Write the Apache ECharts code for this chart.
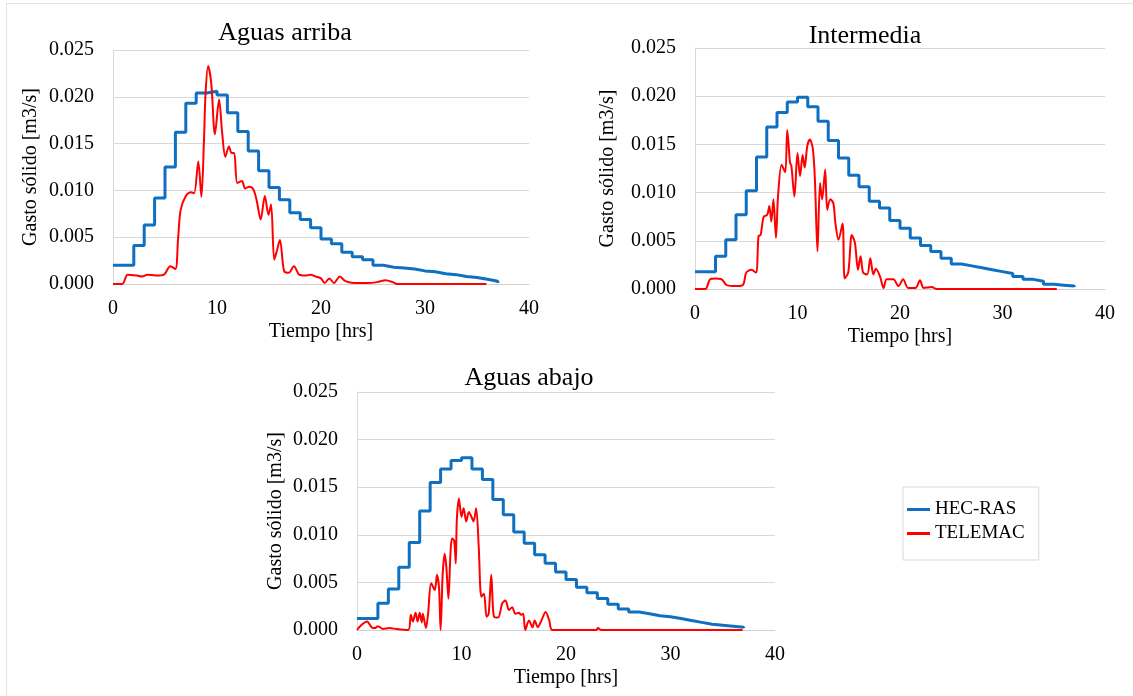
<!DOCTYPE html>
<html>
<head>
<meta charset="utf-8">
<script src="https://cdn.jsdelivr.net/npm/echarts@6/dist/echarts.min.js"></script>
<style>
  html, body { margin: 0; padding: 0; background: #fff; }
  #frame { position: absolute; left: 6px; top: 3px; width: 1127px; height: 693px;
    border-left: 1px solid #e3e3e3; border-top: 1px solid #e3e3e3; }
  #chart { position: absolute; left: 0; top: 0; width: 1133px; height: 696px; }
</style>
</head>
<body>
<div id="frame"></div>
<div id="chart"></div>
<script>
// HEC-RAS step breakpoints (hrs), value holds until next breakpoint
const hecHours = [0, 2, 3, 4, 5, 6, 7, 8, 9, 10, 11, 12, 13, 14, 15, 16, 17, 18, 19, 20,
  21, 22, 23, 24, 25, 26, 27, 28, 29, 30, 31, 32, 33, 34, 35, 36, 37]

const hecArriba = [0.0020, 0.0041, 0.0063, 0.0092, 0.0125, 0.0162, 0.0193, 0.0204, 0.0206, 0.0202,
  0.0183, 0.0163, 0.0142, 0.0121, 0.0103, 0.0090, 0.0076, 0.0069, 0.0060, 0.0048,
  0.0043, 0.0034, 0.0029, 0.0026, 0.0020, 0.0018, 0.0017, 0.0016, 0.0014, 0.0013,
  0.0011, 0.0010, 0.0008, 0.0007, 0.0005, 0.0003, 0.0001]

const hecInter = [0.0018, 0.0034, 0.0051, 0.0077, 0.0102, 0.0137, 0.0168, 0.0183, 0.0194, 0.0199,
  0.0189, 0.0174, 0.0154, 0.0136, 0.0118, 0.0106, 0.0091, 0.0084, 0.0071, 0.0063,
  0.0053, 0.0045, 0.0039, 0.0032, 0.0026, 0.0024, 0.0022, 0.0020, 0.0018, 0.0016,
  0.0013, 0.0010, 0.0008, 0.0005, 0.0004, 0.0003, 0.0002]

const hecAbajo = [0.0012, 0.0028, 0.0043, 0.0066, 0.0092, 0.0125, 0.0155, 0.0169, 0.0178, 0.0181,
  0.0169, 0.0158, 0.0137, 0.0121, 0.0103, 0.0091, 0.0079, 0.0070, 0.0061, 0.0053,
  0.0045, 0.0039, 0.0033, 0.0027, 0.0022, 0.0019, 0.0017, 0.0015, 0.0014, 0.0012,
  0.0010, 0.0008, 0.0006, 0.0005, 0.0004, 0.0003, 0.0002]

// TELEMAC [hrs, m3/s]
const telArriba = [[0, 0], [0.9, 0], [1.4, 0.001], [2.3, 0.0009], [2.8, 0.0008], [3.3, 0.001],
  [4.1, 0.0009], [4.9, 0.001], [5.5, 0.0019], [6.0, 0.0016], [6.25, 0.0047], [6.5, 0.0079],
  [7.0, 0.0094], [7.5, 0.0098], [7.8, 0.0097], [8.2, 0.0131], [8.5, 0.0093], [8.75, 0.0154],
  [8.9, 0.0204], [9.15, 0.0233], [9.45, 0.0214], [9.8, 0.0160], [10.2, 0.0197], [10.5, 0.0161],
  [10.8, 0.0136], [11.15, 0.0147], [11.4, 0.014], [11.65, 0.014], [11.95, 0.0108], [12.4, 0.011],
  [12.7, 0.0102], [13.1, 0.0104], [13.5, 0.0101], [13.8, 0.009], [14.2, 0.0069], [14.6, 0.0094],
  [14.95, 0.0074], [15.2, 0.0085], [15.5, 0.0026], [15.7, 0.0033], [16.05, 0.0047], [16.45, 0.0014],
  [16.9, 0.0012], [17.4, 0.0019], [17.9, 0.001], [18.5, 0.0009], [19.0, 0.001], [19.5, 0.0008],
  [20.0, 0.0006], [20.35, 0.0001], [20.8, 0.0006], [21.25, 0.0001], [21.8, 0.0008], [22.35, 0.0003],
  [23.2, 0.0001], [24.5, 0.0001], [25.4, 0.0002], [26.2, 0.0004], [26.9, 0.0002], [27.3, 0],
  [35.9, 0]]

const telInter = [[0, 0], [1.0, 0], [1.46, 0.001], [1.95, 0.0011], [2.6, 0.001], [3.1, 0.0004],
  [4.1, 0.0003], [4.7, 0.00045], [5.0, 0.0017], [5.5, 0.002], [5.95, 0.0017], [6.2, 0.0055],
  [6.4, 0.0056], [6.7, 0.0075], [7.05, 0.0077], [7.25, 0.0086], [7.45, 0.007], [7.65, 0.0093],
  [7.9, 0.0053], [8.1, 0.0096], [8.45, 0.0129], [8.8, 0.0121], [9.0, 0.0165], [9.27, 0.0131],
  [9.4, 0.0128], [9.7, 0.0096], [10.0, 0.0141], [10.25, 0.0117], [10.5, 0.0139], [10.7, 0.0126],
  [10.95, 0.0148], [11.2, 0.0155], [11.5, 0.0145], [11.7, 0.0113], [11.95, 0.0039], [12.2, 0.011],
  [12.4, 0.0093], [12.7, 0.0124], [12.9, 0.0082], [13.2, 0.0093], [13.5, 0.0089], [13.7, 0.0068],
  [14.0, 0.0051], [14.4, 0.0068], [14.6, 0.0011], [14.95, 0.0017], [15.3, 0.0056], [15.6, 0.0048],
  [15.9, 0.002], [16.15, 0.0034], [16.4, 0.0017], [16.8, 0.0015], [17.1, 0.0032], [17.4, 0.0015],
  [17.65, 0.0021], [18.05, 0.0013], [18.4, 0.0001], [18.7, 0.001], [19.35, 0.001], [19.85, 0.0003],
  [20.3, 0.001], [20.8, 0.0001], [21.5, 0.0001], [21.95, 0.0009], [22.3, 0.0001], [23.1, 0.0002],
  [23.6, 0], [35.3, 0]]

const telAbajo = [[0, 0], [0.4, 0.0005], [0.95, 0.0009], [1.4, 0.0003], [1.7, 0.0002], [2.0, 0.0004],
  [2.5, 0.0001], [3.1, 0.0002], [3.8, 0.0001], [4.9, 0], [5.15, 0.0016], [5.35, 0.0009],
  [5.6, 0.0018], [5.8, 0.0009], [6.0, 0.0018], [6.2, 0.0008], [6.3, 0.0017], [6.6, 0.0002],
  [6.8, 0.0017], [7.1, 0.0049], [7.45, 0.0042], [7.65, 0.0058], [7.85, 0.0044], [8.0, 0],
  [8.2, 0.0059], [8.4, 0.008], [8.55, 0.0066], [8.75, 0.0033], [8.95, 0.0082], [9.1, 0.0096],
  [9.3, 0.0094], [9.45, 0.007], [9.55, 0.0115], [9.75, 0.0138], [10.0, 0.0119], [10.2, 0.0128],
  [10.45, 0.0114], [10.7, 0.0124], [10.95, 0.0119], [11.15, 0.0114], [11.4, 0.0128], [11.65, 0.0087],
  [11.9, 0.0035], [12.15, 0.0038], [12.4, 0.0014], [12.6, 0.0017], [12.85, 0.0058], [13.1, 0.0014],
  [13.5, 0.0013], [13.9, 0.0028], [14.2, 0.0031], [14.55, 0.0021], [14.85, 0.0024], [15.15, 0.0017],
  [15.5, 0.0018], [15.7, 0.0016], [15.9, 0.0017], [16.1, 0], [16.45, 0.001], [16.8, 0.0003],
  [17.0, 0.001], [17.3, 0.0003], [17.65, 0.001], [18.05, 0.0019], [18.4, 0.001], [18.7, 0],
  [22.9, 0], [23.05, 0.0002], [23.4, 0], [36.9, 0]]

const titles = ['Aguas arriba', 'Intermedia', 'Aguas abajo']
const xTicks = [0, 10, 20, 30, 40]
const yTicks = [0, 0.005, 0.01, 0.015, 0.02, 0.025]

const FONT = '"Liberation Serif", "DejaVu Serif", serif'
const BLUE = '#0f6fc0'
const RED = '#ff0000'

const grids = [
  { left: 113, top: 50, width: 416, height: 234 },
  { left: 695, top: 48, width: 410, height: 241 },
  { left: 357, top: 392, width: 418, height: 238 },
]
const titlePos = [
  { left: 280, top: 15 },
  { left: 860, top: 18 },
  { left: 524, top: 360 },
]
const yNameGap = [72, 77, 71]

const hecSeries = [hecArriba, hecInter, hecAbajo]
const telSeries = [telArriba, telInter, telAbajo]

const stepData = (vals) => hecHours.map((h, i) => [h, vals[i]])

const xAxis = grids.map((g, i) => ({
  type: 'value',
  gridIndex: i,
  min: xTicks[0],
  max: xTicks[xTicks.length - 1],
  interval: 10,
  name: 'Tiempo [hrs]',
  nameLocation: 'middle',
  nameGap: 38,
  nameTextStyle: { fontFamily: FONT, fontSize: 20, color: '#000' },
  axisLine: { show: true, lineStyle: { color: '#d0d0d0', width: 1 } },
  axisTick: { show: false },
  axisLabel: { fontFamily: FONT, fontSize: 20, color: '#000', margin: 15 },
  splitLine: { show: false },
}))

const yAxis = grids.map((g, i) => ({
  type: 'value',
  gridIndex: i,
  min: yTicks[0],
  max: yTicks[yTicks.length - 1],
  interval: 0.005,
  name: 'Gasto sólido [m3/s]',
  nameLocation: 'middle',
  nameGap: yNameGap[i],
  nameTextStyle: { fontFamily: FONT, fontSize: 20, color: '#000' },
  axisLine: { show: true, lineStyle: { color: '#d9d9d9', width: 1 } },
  axisTick: { show: false },
  axisLabel: {
    fontFamily: FONT, fontSize: 20, color: '#000', margin: 19,
    formatter: (v) => v.toFixed(3),
  },
  splitLine: { show: true, lineStyle: { color: '#d9d9d9', width: 1 } },
}))

const series = []
grids.forEach((g, i) => {
  series.push({
    name: 'HEC-RAS',
    type: 'line',
    xAxisIndex: i,
    yAxisIndex: i,
    step: 'end',
    symbol: 'none',
    data: stepData(hecSeries[i]),
    lineStyle: { color: BLUE, width: 3 },
    itemStyle: { color: BLUE },
    z: 2,
  })
  series.push({
    name: 'TELEMAC',
    type: 'line',
    xAxisIndex: i,
    yAxisIndex: i,
    smooth: 0.3,
    symbol: 'none',
    data: telSeries[i],
    lineStyle: { color: RED, width: 2 },
    itemStyle: { color: RED },
    z: 3,
  })
})

const chart = echarts.init(document.getElementById('chart'))
chart.setOption({
  animation: false,
  backgroundColor: 'transparent',
  title: titles.map((t, i) => ({
    text: t,
    left: titlePos[i].left,
    top: titlePos[i].top,
    textAlign: 'center',
    textStyle: { fontFamily: FONT, fontSize: 26, fontWeight: 'normal', color: '#000' },
  })),
  legend: {
    data: ['HEC-RAS', 'TELEMAC'],
    orient: 'vertical',
    left: 903,
    top: 487,
    icon: 'rect',
    itemWidth: 23,
    itemHeight: 3,
    itemGap: 5,
    padding: [13, 14, 17, 4],
    borderColor: '#d9d9d9',
    borderWidth: 1,
    textStyle: { fontFamily: FONT, fontSize: 19, color: '#000', lineHeight: 19 },
  },
  grid: grids,
  xAxis: xAxis,
  yAxis: yAxis,
  series: series,
})
</script>
</body>
</html>
